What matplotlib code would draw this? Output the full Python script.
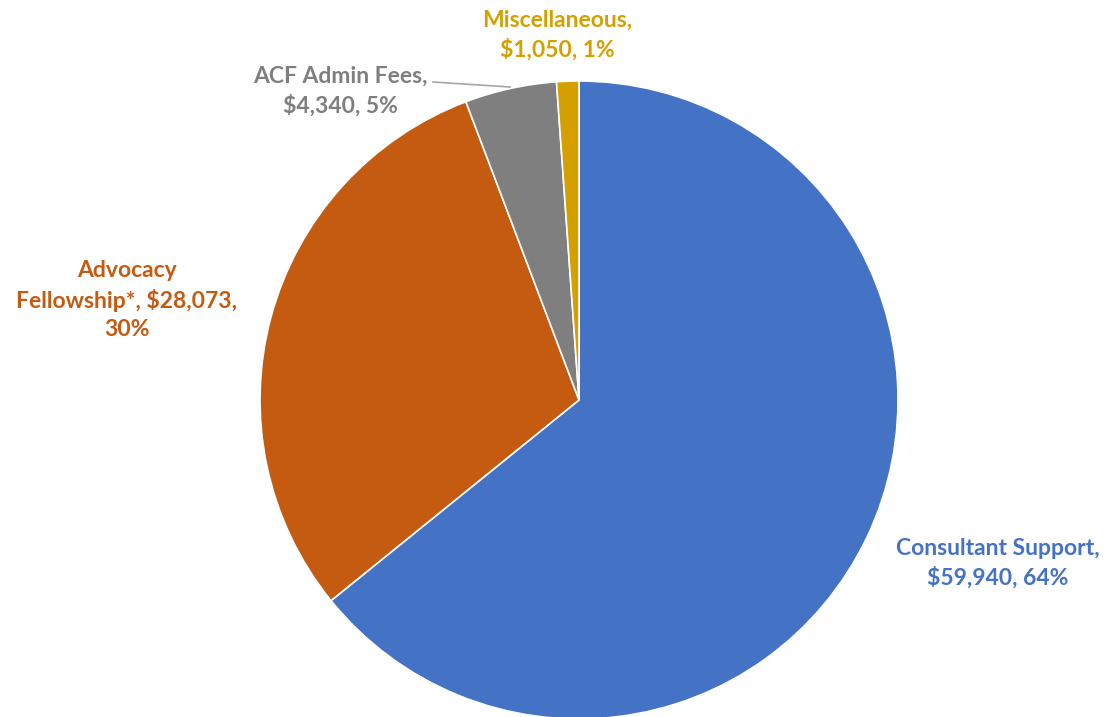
import matplotlib.pyplot as plt

# Budget breakdown
categories = ["Consultant Support", "Advocacy\nFellowship*", "ACF Admin Fees", "Miscellaneous"]
amounts = [59940, 28073, 4340, 1050]
colors = ["#4472C4", "#C55A11", "#7F7F7F", "#D4A000"]

plt.rcParams["font.family"] = ["Lato", "DejaVu Sans"]

fig = plt.figure(figsize=(11.08, 7.17), dpi=100)
ax = fig.add_axes([0, 0, 1, 1])

wedges, _ = ax.pie(amounts, colors=colors, startangle=90, counterclock=False,
                   radius=1, wedgeprops=dict(edgecolor="white", linewidth=1.2))

# pie centre at pixel (579, 400), radius 319 px
scale = 319
ax.set_aspect("auto")
ax.set_xlim(-579 / scale, (1108 - 579) / scale)
ax.set_ylim(-(717 - 400) / scale, 400 / scale)
ax.axis("off")

total = sum(amounts)
pcts = [round(a / total * 100) for a in amounts]

labels = [
    f"Consultant Support,\n${amounts[0]:,}, {pcts[0]}%",
    f"Advocacy\nFellowship*, ${amounts[1]:,},\n{pcts[1]}%",
    f"ACF Admin Fees,\n${amounts[2]:,}, {pcts[2]}%",
    f"Miscellaneous,\n${amounts[3]:,}, {pcts[3]}%",
]
label_pos = [(1.313, -0.511), (-1.417, 0.313), (-0.749, 0.969), (-0.069, 1.144)]

for text, (x, y), c in zip(labels, label_pos, colors):
    ax.text(x, y, text, ha="center", va="center", color=c, fontsize=16.5,
            fontweight="bold", linespacing=1.42)

# leader line for the admin fees label
ax.plot([(433 - 579) / scale, (510 - 579) / scale],
        [(400 - 82) / scale, (400 - 87) / scale], color="#A6A6A6", lw=1.2)

fig.savefig("out.png", dpi=100)
